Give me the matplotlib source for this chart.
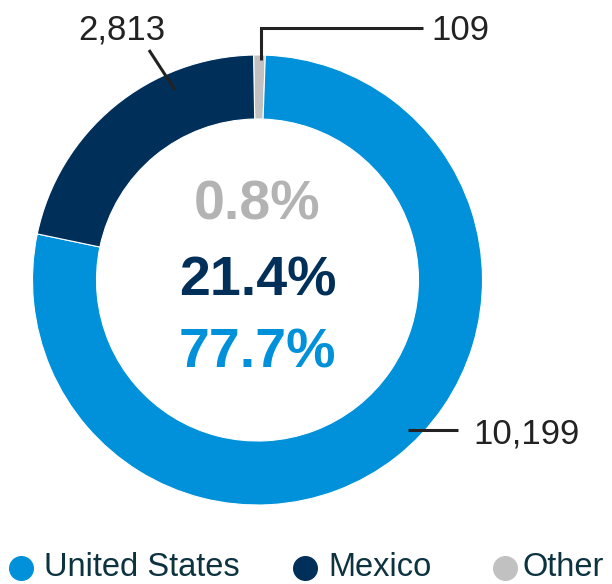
import matplotlib.pyplot as plt

plt.rcParams['font.family'] = ['Liberation Sans', 'DejaVu Sans']

# Данные
countries = ['United States', 'Mexico', 'Other']
counts = [10199, 2813, 109]
pct_labels = ['77.7%', '21.4%', '0.8%']
colors = ['#0091DA', '#00305A', '#C1C1C1']
pct_colors = ['#0091DA', '#00305A', '#B3B3B3']
count_labels = ['10,199', '2,813', '109']

W, H = 612, 584
cx, cy = 257.5, H - 280      # центр кольца (в пикселях)
R, ring = 225, 64


def py(y):
    # пиксели сверху -> координаты оси
    return H - y


fig = plt.figure(figsize=(W / 100, H / 100), dpi=100)
ax = fig.add_axes([0, 0, 1, 1])

# порядок секторов по часовой стрелке от верха: Other, US, Mexico
order = [2, 0, 1]
ax.pie([counts[i] for i in order], colors=[colors[i] for i in order],
       startangle=91, counterclock=False, radius=R, center=(cx, cy),
       wedgeprops=dict(width=ring, edgecolor='white', linewidth=0.8))

ax.set_xlim(0, W)
ax.set_ylim(0, H)
ax.set_aspect('equal')
ax.axis('off')

# проценты в центре
for i, yb in zip([2, 1, 0], [220, 295, 367]):
    ax.text(cx, py(yb), pct_labels[i], ha='center', va='baseline',
            fontsize=40, fontweight='bold', color=pct_colors[i])

# подписи с выносками
lc = '#222222'
ax.plot([149, 175], [py(50), py(90)], color=lc, lw=2.2, solid_capstyle='butt')
ax.text(122, py(40), count_labels[1], ha='center', va='baseline', fontsize=25, color=lc)

ax.plot([260.5, 260.5, 423], [py(60), py(28), py(28)], color=lc, lw=2.2,
        solid_joinstyle='miter', solid_capstyle='butt')
ax.text(431, py(40), count_labels[2], ha='left', va='baseline', fontsize=25, color=lc)

ax.plot([408, 458], [py(430), py(430)], color=lc, lw=2.2, solid_capstyle='butt')
ax.text(473, py(443), count_labels[0], ha='left', va='baseline', fontsize=25, color=lc)

# легенда (вручную)
leg_marker_x = [21, 305, 505]
leg_text_x = [44, 328, 522]
for name, c, mx, tx in zip(countries, colors, leg_marker_x, leg_text_x):
    ax.plot([mx], [py(568)], marker='o', markersize=17, color=c, linestyle='none')
    ax.text(tx, py(576), name, ha='left', va='baseline', fontsize=23.5,
            color='#0d3340')

fig.savefig('out.png', dpi=100)
